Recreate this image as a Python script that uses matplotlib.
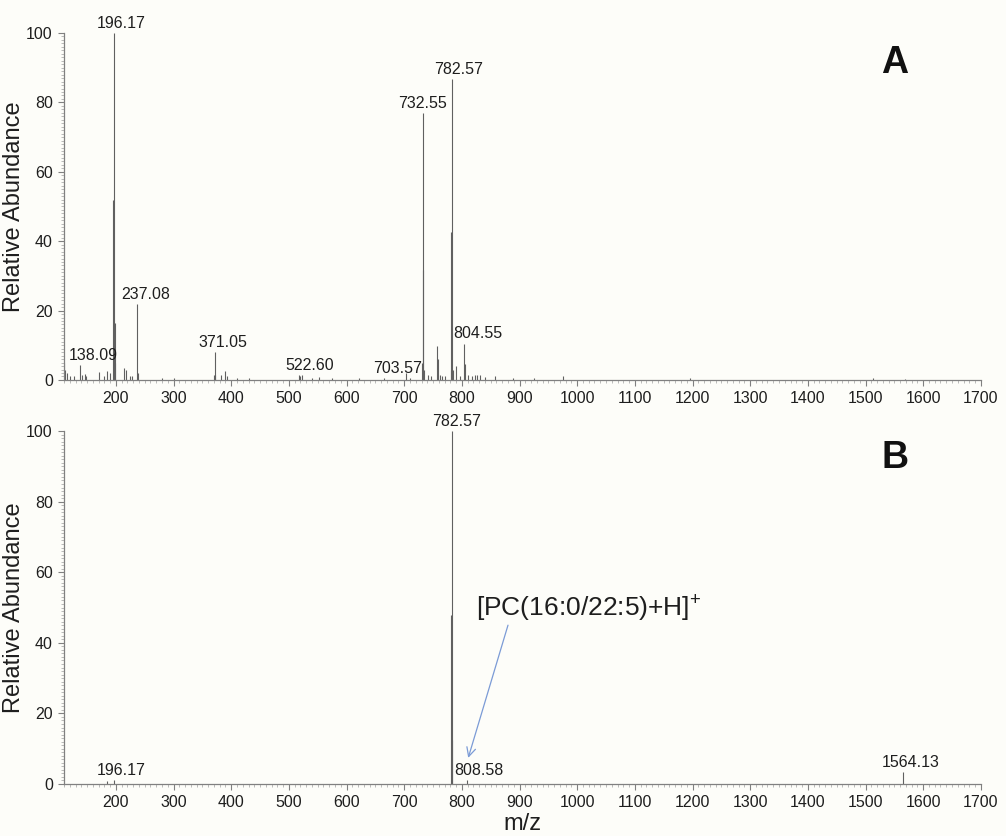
import matplotlib
matplotlib.use("Agg")
import matplotlib.pyplot as plt
from matplotlib.ticker import MultipleLocator

plt.rcParams["font.family"] = ["Liberation Sans", "DejaVu Sans"]
plt.rcParams["mathtext.fontset"] = "custom"
plt.rcParams["mathtext.rm"] = "Liberation Sans"

# panel A - full scan spectrum (m/z, relative abundance)
mz_a = [110.5, 112, 115, 120, 127, 138.09, 141, 146, 149, 170, 180, 184, 190,
        194.5, 196.17, 197.8, 199, 214, 217, 225, 228, 237.08, 238.5, 280, 300,
        369.5, 371.05, 372.5, 383, 390, 392, 410, 430, 518, 520, 522.60, 540,
        552, 575, 621, 665, 703.57, 710, 730.5, 732.0, 732.55, 735, 742, 746,
        756.55, 758.5, 762, 766, 770, 780.5, 782.0, 782.57, 785, 790, 796,
        804.55, 805.6, 810, 818, 822, 826, 832, 840, 858, 888, 925, 975, 1195,
        1513, 1569]
int_a = [5, 3, 2, 1, 1, 4.3, 1.5, 1.8, 1.2, 2.2, 1.0, 2.5, 2.0,
         52, 100, 16.5, 5, 3.5, 2.8, 1, 1.2, 22, 2, 0.5, 0.5,
         1.5, 8, 1.5, 1.5, 2.5, 1, 0.5, 0.5, 1.5, 1.2, 1.5, 0.6,
         0.8, 0.6, 0.6, 0.6, 2, 0.6, 5, 31.7, 77, 3, 1.5, 1,
         9.8, 6, 1.5, 1.2, 1, 3, 42.6, 86.7, 3, 4, 1,
         10.5, 4.5, 1.5, 1.2, 1.5, 1.3, 1.5, 0.8, 1.2, 0.5, 0.5, 1.0, 0.5,
         0.5, 0.4]

# panel B
mz_b = [184, 196.17, 782.0, 782.57, 783.6, 808.58, 1564.13]
int_b = [0.8, 1.0, 48, 100, 12.5, 1.0, 3.4]

# peak labels: (text, peak m/z, peak height, label centre m/z)
labels_a = [("138.09", 138.09, 4.3, 160), ("196.17", 196.17, 100, 210),
            ("237.08", 237.08, 22, 251), ("371.05", 371.05, 8, 385),
            ("522.60", 522.60, 1.5, 536), ("703.57", 703.57, 0.6, 688),
            ("732.55", 732.55, 77, 732.5), ("782.57", 782.57, 86.7, 794),
            ("804.55", 804.55, 10.5, 828)]
labels_b = [("196.17", 196.17, 1.0, 210), ("782.57", 782.57, 100, 790),
            ("808.58", 808.58, 1.0, 830), ("1564.13", 1564.13, 3.4, 1578)]

fig = plt.figure(figsize=(10.06, 8.36), dpi=100, facecolor="#fdfdf9")
ax_a = fig.add_axes([0.0636, 0.5455, 0.9114, 0.415])
ax_b = fig.add_axes([0.0636, 0.0622, 0.9114, 0.4222])

grey = "#808080"
txt = "#1e1e1e"


def style(ax):
    ax.set_facecolor("#fdfdf9")
    ax.set_xlim(110, 1700)
    ax.set_ylim(0, 100)
    for s in ["top", "right"]:
        ax.spines[s].set_visible(False)
    for s in ["left", "bottom"]:
        ax.spines[s].set_color(grey)
        ax.spines[s].set_linewidth(0.9)
    ax.xaxis.set_minor_locator(MultipleLocator(10))
    ax.yaxis.set_major_locator(MultipleLocator(20))
    ax.yaxis.set_minor_locator(MultipleLocator(1))
    ax.set_xticks(range(200, 1701, 100))
    ax.tick_params(which="major", length=4, width=0.8, color=grey,
                   labelsize=11.5, labelcolor=txt, pad=4)
    ax.tick_params(which="minor", length=2.5, width=0.5, color="#a0a0a0")
    ax.set_ylabel("Relative Abundance", fontsize=17, color=txt, labelpad=1)


for ax, mz, inten, labs, tag, tag_y in [(ax_a, mz_a, int_a, labels_a, "A", 0.914),
                                        (ax_b, mz_b, int_b, labels_b, "B", 0.924)]:
    style(ax)
    ax.vlines(mz, 0, inten, color="#606060", lw=0.8)
    for t, x, h, cx in labs:
        ax.annotate(t, xy=(cx, h), xytext=(0, 1.5), textcoords="offset points",
                    ha="center", va="bottom", fontsize=11.5, color=txt)
    ax.text(0.906, tag_y, tag, transform=ax.transAxes, fontsize=27,
            fontweight="bold", ha="center", va="center", color="#111111")

ax_b.set_xlabel("m/z", fontsize=17, color=txt, labelpad=2)

ax_b.text(1020, 50, r"[PC(16:0/22:5)+H]$^{\mathrm{+}}$", ha="center", va="center",
          fontsize=19, color=txt)
ax_b.annotate("", xy=(811, 7.4), xytext=(880, 45),
              arrowprops=dict(arrowstyle="->", color="#7b9bd6", lw=0.9,
                              mutation_scale=16, shrinkA=0, shrinkB=0))

fig.savefig("out.png", dpi=100, facecolor=fig.get_facecolor())
